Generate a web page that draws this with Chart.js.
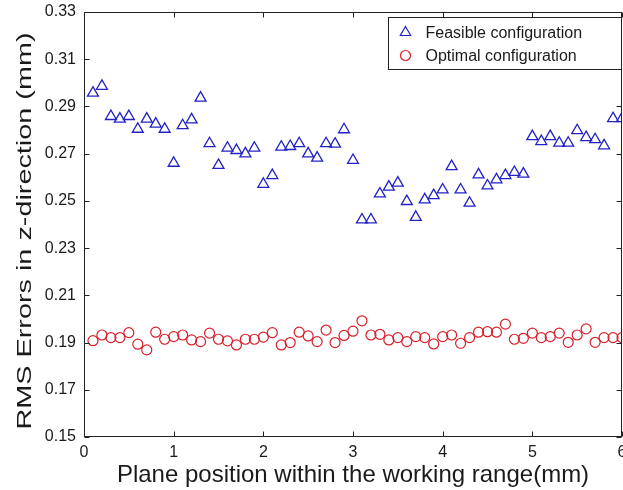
<!DOCTYPE html>
<html>
<head>
<meta charset="utf-8">
<script src="https://cdn.jsdelivr.net/npm/chart.js@4/dist/chart.umd.min.js"></script>
<style>
  html, body { margin: 0; padding: 0; background: #ffffff; }
  #wrap { width: 623px; height: 490px; position: relative; }
</style>
</head>
<body>
<div id="wrap"><canvas id="c" width="623" height="490"></canvas></div>
<script>
// ---- data ----
const planePositions = [
  0.1, 0.2, 0.3, 0.4, 0.5, 0.6, 0.7, 0.8, 0.9, 1.0,
  1.1, 1.2, 1.3, 1.4, 1.5, 1.6, 1.7, 1.8, 1.9, 2.0,
  2.1, 2.2, 2.3, 2.4, 2.5, 2.6, 2.7, 2.8, 2.9, 3.0,
  3.1, 3.2, 3.3, 3.4, 3.5, 3.6, 3.7, 3.8, 3.9, 4.0,
  4.1, 4.2, 4.3, 4.4, 4.5, 4.6, 4.7, 4.8, 4.9, 5.0,
  5.1, 5.2, 5.3, 5.4, 5.5, 5.6, 5.7, 5.8, 5.9, 6.0
];
const feasibleRMS = [
  0.2957, 0.2986, 0.2858, 0.2847, 0.2858, 0.2804, 0.2847, 0.2826, 0.2804, 0.2660,
  0.2819, 0.2844, 0.2936, 0.2743, 0.2651, 0.2724, 0.2714, 0.2700, 0.2724, 0.2571,
  0.2608, 0.2728, 0.2731, 0.2743, 0.2700, 0.2682, 0.2743, 0.2741, 0.2802, 0.2672,
  0.2420, 0.2420, 0.2530, 0.2559, 0.2576, 0.2498, 0.2431, 0.2505, 0.2523, 0.2547,
  0.2646, 0.2547, 0.2491, 0.2611, 0.2564, 0.2590, 0.2608, 0.2621, 0.2614, 0.2773,
  0.2752, 0.2773, 0.2745, 0.2745, 0.2798, 0.2769, 0.2760, 0.2734, 0.2849, 0.2849
];
const optimalRMS = [
  0.1908, 0.1932, 0.1921, 0.1921, 0.1942, 0.1893, 0.1869, 0.1944, 0.1914, 0.1925,
  0.1932, 0.1911, 0.1904, 0.1940, 0.1914, 0.1907, 0.1890, 0.1914, 0.1914, 0.1923,
  0.1942, 0.1890, 0.1900, 0.1944, 0.1928, 0.1904, 0.1953, 0.1900, 0.1930, 0.1948,
  0.1992, 0.1932, 0.1935, 0.1911, 0.1921, 0.1904, 0.1925, 0.1921, 0.1894, 0.1925,
  0.1932, 0.1897, 0.1921, 0.1944, 0.1946, 0.1944, 0.1978, 0.1914, 0.1918, 0.1940,
  0.1921, 0.1925, 0.1940, 0.1901, 0.1932, 0.1958, 0.1901, 0.1921, 0.1921, 0.1921
];
const seriesNames = ['Feasible configuration', 'Optimal configuration'];
const xTickValues = [0, 1, 2, 3, 4, 5, 6];
const yTickValues = [0.15, 0.17, 0.19, 0.21, 0.23, 0.25, 0.27, 0.29, 0.31, 0.33];
const xTitle = 'Plane position within the working range(mm)';
const yTitle = 'RMS Errors in z-direction (mm)';

// ---- styling ----
const BLUE = '#2222c4';
const RED = '#d8202c';
const TEXT = '#1a1a1a';
const FONT = 'Liberation Sans, Arial, sans-serif';

const toPoints = (ys) => planePositions.map((x, i) => ({ x: x, y: ys[i] }));

// inward ticks + box (MATLAB style), in-plot legend, stretched y title
const boxPlugin = {
  id: 'boxPlugin',
  afterDatasetsDraw(chart) {
    const { ctx, chartArea: a, scales } = chart;
    ctx.save();
    ctx.strokeStyle = '#222';
    ctx.lineWidth = 1;
    const l = Math.round(a.left) + 0.5, t = Math.round(a.top) + 0.5;
    const r = Math.round(a.right) - 0.5, b = Math.round(a.bottom) - 0.5;
    ctx.strokeRect(l, t, r - l, b - t);
    const L = 5;
    ctx.beginPath();
    xTickValues.forEach(v => {
      const px = Math.round(scales.x.getPixelForValue(v)) + 0.5;
      ctx.moveTo(px, b); ctx.lineTo(px, b - L);
      ctx.moveTo(px, t); ctx.lineTo(px, t + L);
    });
    yTickValues.forEach(v => {
      const py = Math.round(scales.y.getPixelForValue(v)) + 0.5;
      ctx.moveTo(l, py); ctx.lineTo(l + L, py);
      ctx.moveTo(r, py); ctx.lineTo(r - L, py);
    });
    ctx.stroke();
    ctx.restore();
  },
  afterDraw(chart) {
    const { ctx, chartArea: a } = chart;
    // legend box inside the plot (top-right)
    const w = 233, h = 52;
    const x0 = Math.round(a.right) - w - 0.5, y0 = Math.round(a.top) + 5.5;
    ctx.save();
    ctx.fillStyle = '#fff';
    ctx.fillRect(x0, y0, w, h);
    ctx.strokeStyle = '#222';
    ctx.lineWidth = 1;
    ctx.strokeRect(x0, y0, w, h);
    ctx.font = '16px ' + FONT;
    ctx.textBaseline = 'middle';
    chart.data.datasets.forEach((ds, i) => {
      const cy = y0 + 15 + i * 23;
      const mx = x0 + 17;
      ctx.strokeStyle = ds.borderColor;
      ctx.lineWidth = 1.2;
      ctx.beginPath();
      if (ds.pointStyle === 'triangle') {
        const rr = 6;
        ctx.moveTo(mx, cy - rr);
        ctx.lineTo(mx + rr * 0.866, cy + rr / 2);
        ctx.lineTo(mx - rr * 0.866, cy + rr / 2);
        ctx.closePath();
      } else {
        ctx.arc(mx, cy, 5, 0, Math.PI * 2);
      }
      ctx.stroke();
      ctx.fillStyle = TEXT;
      ctx.fillText(ds.label, x0 + 37, cy + 1);
    });
    ctx.restore();

    // y-axis title (stretched along its length, as in the reference)
    ctx.save();
    ctx.translate(25, 231);
    ctx.rotate(-Math.PI / 2);
    ctx.font = '21px ' + FONT;
    const natural = ctx.measureText(yTitle).width;
    ctx.scale(397 / natural, 1);
    ctx.fillStyle = TEXT;
    ctx.textAlign = 'center';
    ctx.textBaseline = 'middle';
    ctx.fillText(yTitle, 0, 0);
    ctx.restore();
  }
};

new Chart(document.getElementById('c'), {
  type: 'scatter',
  data: {
    datasets: [
      {
        label: seriesNames[0],
        data: toPoints(feasibleRMS),
        pointStyle: 'triangle',
        pointRadius: 6.3,
        pointHoverRadius: 6.3,
        borderColor: BLUE,
        backgroundColor: 'rgba(0,0,0,0)',
        pointBorderWidth: 1.3,
        showLine: false
      },
      {
        label: seriesNames[1],
        data: toPoints(optimalRMS),
        pointStyle: 'circle',
        pointRadius: 5,
        pointHoverRadius: 5,
        borderColor: RED,
        backgroundColor: 'rgba(0,0,0,0)',
        pointBorderWidth: 1.2,
        showLine: false
      }
    ]
  },
  options: {
    responsive: false,
    animation: false,
    devicePixelRatio: 1,
    layout: { autoPadding: false, padding: { top: 12, right: 1, left: 0, bottom: 0 } },
    plugins: {
      legend: { display: false },
      tooltip: { enabled: false }
    },
    scales: {
      x: {
        type: 'linear',
        min: 0, max: 6,
        afterBuildTicks: (s) => { s.ticks = xTickValues.map(v => ({ value: v })); },
        afterFit: (s) => { s.height = 53; s.paddingLeft = 0; s.paddingRight = 0; },
        grid: { display: false, drawTicks: false },
        border: { display: false },
        ticks: {
          color: TEXT,
          font: { family: FONT, size: 16 },
          padding: 6,
          maxRotation: 0,
          callback: (v) => String(v)
        },
        title: {
          display: true,
          text: xTitle,
          color: TEXT,
          font: { family: FONT, size: 24 },
          padding: { top: 0, bottom: 0 }
        }
      },
      y: {
        type: 'linear',
        min: 0.15, max: 0.33,
        afterBuildTicks: (s) => { s.ticks = yTickValues.map(v => ({ value: v })); },
        afterFit: (s) => { s.width = 84; s.paddingTop = 0; s.paddingBottom = 0; },
        grid: { display: false, drawTicks: false },
        border: { display: false },
        ticks: {
          color: TEXT,
          font: { family: FONT, size: 16 },
          padding: 8,
          callback: (v) => Number(v).toFixed(2)
        },
        title: { display: false }
      }
    }
  },
  plugins: [boxPlugin]
});
</script>
</body>
</html>
